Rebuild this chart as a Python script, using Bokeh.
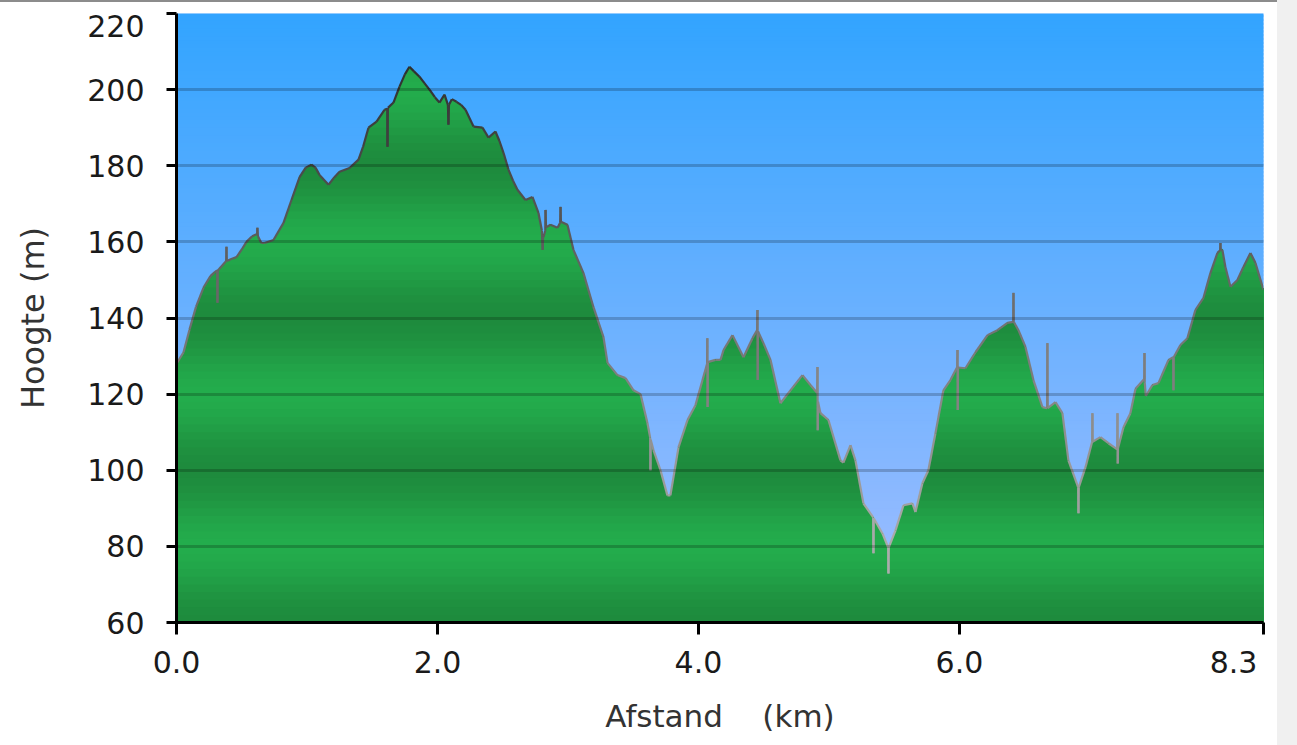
import numpy as np
from bokeh.plotting import figure
from bokeh.models import FixedTicker, CustomJSTickFormatter, Div, LinearAxis
from bokeh.layouts import row, column
from bokeh.embed import file_html
from bokeh.resources import INLINE

# ---------------- data ----------------
dist_km = [
    0.000, 0.054, 0.100, 0.150, 0.207, 0.260, 0.291, 0.312, 0.314, 0.316,
    0.330, 0.381, 0.383, 0.385, 0.420, 0.460, 0.500, 0.536, 0.580, 0.613,
    0.618, 0.620, 0.624, 0.650, 0.674, 0.743, 0.820, 0.881, 0.943, 0.990,
    1.034, 1.065, 1.096, 1.165, 1.210, 1.249, 1.326, 1.395, 1.430, 1.471,
    1.533, 1.594, 1.615, 1.617, 1.620, 1.663, 1.709, 1.750, 1.785, 1.820,
    1.862, 1.900, 1.939, 1.980, 2.015, 2.054, 2.080, 2.084, 2.088, 2.110,
    2.146, 2.180, 2.215, 2.276, 2.345, 2.391, 2.444, 2.475, 2.506, 2.544,
    2.580, 2.613, 2.674, 2.728, 2.774, 2.800, 2.806, 2.810, 2.812, 2.826,
    2.828, 2.832, 2.866, 2.920, 2.940, 2.943, 2.946, 2.996, 3.042, 3.119,
    3.195, 3.272, 3.303, 3.379, 3.441, 3.502, 3.556, 3.609, 3.630, 3.632,
    3.634, 3.655, 3.709, 3.762, 3.785, 3.847, 3.916, 3.977, 4.031, 4.066,
    4.068, 4.070, 4.072, 4.130, 4.169, 4.192, 4.261, 4.345, 4.414, 4.450,
    4.452, 4.454, 4.456, 4.498, 4.552, 4.628, 4.705, 4.797, 4.858, 4.910,
    4.912, 4.914, 4.916, 4.935, 4.996, 5.088, 5.111, 5.165, 5.203, 5.264,
    5.339, 5.341, 5.343, 5.410, 5.454, 5.456, 5.458, 5.510, 5.571, 5.640,
    5.663, 5.716, 5.762, 5.816, 5.877, 5.931, 5.983, 5.985, 5.987, 5.989,
    6.046, 6.123, 6.215, 6.291, 6.368, 6.412, 6.414, 6.416, 6.452, 6.506,
    6.567, 6.636, 6.672, 6.674, 6.676, 6.736, 6.789, 6.835, 6.910, 6.912,
    6.914, 6.966, 7.017, 7.019, 7.021, 7.080, 7.142, 7.209, 7.211, 7.213,
    7.215, 7.257, 7.310, 7.349, 7.416, 7.418, 7.420, 7.428, 7.479, 7.525,
    7.602, 7.638, 7.640, 7.642, 7.693, 7.747, 7.808, 7.870, 7.923, 7.977,
    7.998, 8.000, 8.002, 8.015, 8.038, 8.077, 8.130, 8.176, 8.230, 8.268,
    8.330,
]
elev_m = [
    128.0, 131.0, 137.0, 143.0, 148.0, 151.0, 152.0, 152.5, 144.0, 152.5,
    153.0, 155.0, 158.7, 155.0, 155.5, 156.0, 158.0, 160.0, 161.5, 162.0,
    162.0, 163.7, 161.5, 159.7, 159.7, 160.5, 165.0, 171.0, 177.0, 179.5,
    180.3, 179.5, 177.6, 175.0, 177.0, 178.4, 179.4, 181.6, 185.0, 190.0,
    191.6, 194.7, 195.0, 185.0, 195.2, 196.6, 200.8, 204.0, 206.0, 204.8,
    203.4, 201.7, 200.0, 198.0, 196.6, 198.7, 196.0, 190.8, 196.0, 197.5,
    196.8, 196.0, 194.7, 190.3, 190.0, 187.4, 189.0, 186.5, 183.4, 179.0,
    176.0, 173.7, 171.0, 171.8, 167.6, 163.0, 157.9, 162.0, 161.3, 163.0,
    168.4, 163.8, 164.5, 163.7, 165.0, 169.2, 165.3, 164.5, 157.9, 151.8,
    142.9, 135.0, 128.2, 125.0, 124.2, 121.0, 120.0, 112.4, 108.5, 100.0,
    108.0, 105.3, 100.0, 93.4, 93.4, 106.0, 113.2, 117.1, 123.7, 128.0,
    134.7, 116.6, 128.4, 129.0, 129.0, 131.6, 135.5, 129.7, 134.7, 136.8,
    142.1, 123.7, 136.5, 133.4, 129.0, 117.6, 121.0, 125.0, 122.4, 120.3,
    127.1, 110.5, 118.0, 115.0, 113.2, 102.6, 102.0, 106.6, 102.6, 91.3,
    87.6, 78.2, 87.4, 83.4, 79.7, 72.9, 79.7, 84.2, 90.8, 91.3,
    89.0, 96.6, 100.0, 109.7, 121.0, 123.7, 127.1, 131.6, 115.8, 127.0,
    126.8, 131.0, 135.5, 136.8, 138.7, 139.0, 146.6, 139.0, 136.8, 132.4,
    123.7, 116.6, 116.3, 133.4, 116.3, 117.9, 115.0, 102.6, 95.5, 88.7,
    95.5, 100.8, 107.5, 115.0, 107.5, 108.7, 107.1, 105.5, 115.0, 101.8,
    105.8, 111.3, 115.0, 121.4, 124.0, 130.8, 123.0, 119.5, 122.4, 122.9,
    129.0, 129.7, 121.0, 129.7, 132.9, 134.7, 142.1, 145.3, 151.8, 157.1,
    157.8, 159.7, 157.9, 157.9, 153.4, 148.2, 150.0, 153.4, 157.1, 154.5,
    147.4,
]
x_ticks = [0.0, 2.0, 4.0, 6.0, 8.33]
x_tick_labels = ["0.0", "2.0", "4.0", "6.0", "8.3"]
y_ticks = [60, 80, 100, 120, 140, 160, 180, 200, 220]
y_tick_labels = ["60", "80", "100", "120", "140", "160", "180", "200", "220"]
y_grid = [80, 100, 120, 140, 160, 180, 200]
x_title = "Afstand\u00a0\u00a0\u00a0\u00a0(km)"
y_title = "Hoogte (m)"

X_MIN, X_MAX = 0.0, 8.33
Y_MIN, Y_MAX = 60.0, 220.0
FONT = "DejaVu Sans"
TICK_FS = "30px"
TICK_COLOR = "#1a1a1a"

FRAME_W, FRAME_H = 1087, 609
p = figure(width=1277, height=735,
           x_range=(X_MIN, X_MAX), y_range=(Y_MIN, Y_MAX),
           output_backend="svg", toolbar_location=None,
           min_border_left=176, min_border_right=14,
           min_border_top=11, min_border_bottom=115)
p.outline_line_color = None
p.background_fill_color = "#6BB1FF"
p.border_fill_color = "white"

# ---- sky gradient ----
def lerp(c0, c1, t):
    return tuple(int(round(a + (b - a) * t)) for a, b in zip(c0, c1))

def hexc(c):
    return "#%02x%02x%02x" % c

sky_top, sky_bot = (50, 164, 255), (163, 190, 255)
bands = np.arange(Y_MIN, Y_MAX, 1.0)
sky_cols = [hexc(lerp(sky_bot, sky_top, (b + 0.5 - Y_MIN) / (Y_MAX - Y_MIN))) for b in bands]
p.quad(left=X_MIN, right=X_MAX, bottom=bands, top=np.minimum(bands + 1.6, Y_MAX),
       fill_color=sky_cols, line_color=None)

# ---- green area with horizontal shading bands ----
xs = np.array(dist_km)
ys = np.array(elev_m)
step = 2.0
levels = np.arange(Y_MIN + step, Y_MAX + 0.01, step)

# add the points where the drawn polyline crosses the band edges (geometry only)
rx, ry = [xs[0]], [ys[0]]
for i in range(len(xs) - 1):
    x0, y0, x1, y1 = xs[i], ys[i], xs[i + 1], ys[i + 1]
    lo, hi = min(y0, y1), max(y0, y1)
    cross = [l for l in levels if lo < l < hi]
    ts = sorted((l - y0) / (y1 - y0) for l in cross)
    for t in ts:
        rx.append(x0 + t * (x1 - x0))
        ry.append(y0 + t * (y1 - y0))
    rx.append(x1)
    ry.append(y1)
rx = np.array(rx)
ry = np.array(ry)

g_light, g_dark = (35, 172, 76), (30, 139, 61)
for top in levels[::-1]:
    mid = top - step / 2
    w = (1 + np.cos(2 * np.pi * (mid - 60) / 40.0)) / 2
    col = hexc(lerp(g_light, g_dark, w))
    p.varea(x=rx, y1=np.full(len(rx), Y_MIN), y2=np.clip(ry, Y_MIN, top),
            fill_color=col)

# ---- outline, darker on high ground, lighter in the valleys ----
seg_cols = []
for i in range(len(xs) - 1):
    m = (ys[i] + ys[i + 1]) / 2
    t = min(max((m - 80) / (205 - 80), 0), 1)
    seg_cols.append(hexc(lerp((172, 172, 172), (48, 48, 48), t)))
p.segment(x0=xs[:-1], y0=ys[:-1], x1=xs[1:], y1=ys[1:],
          line_color=seg_cols, line_width=2.2)

# ---- grid ----
p.xgrid.grid_line_color = None
p.ygrid.ticker = FixedTicker(ticks=y_grid)
p.ygrid.grid_line_color = "#000000"
p.ygrid.grid_line_alpha = 0.2
p.ygrid.grid_line_width = 3
p.ygrid.level = "annotation"

# ---- main axes: line and tick marks only ----
blank = CustomJSTickFormatter(code='return "";')
for ax, ticks, out in ((p.xaxis[0], x_ticks, 12), (p.yaxis[0], y_ticks, 10)):
    ax.ticker = FixedTicker(ticks=ticks)
    ax.formatter = blank
    ax.axis_line_color = "black"
    ax.axis_line_width = 3
    ax.major_tick_line_color = "black"
    ax.major_tick_line_width = 3
    ax.major_tick_in = 0
    ax.major_tick_out = out
    ax.minor_tick_line_color = None
    ax.major_label_standoff = 0
    ax.major_label_text_font_size = "0px"

# ---- label axes: tick labels (the end labels sit inside the axis ends) ----
px_per_km = FRAME_W / (X_MAX - X_MIN)
px_per_m = FRAME_H / (Y_MAX - Y_MIN)
x_label_at = x_ticks[:-1] + [x_ticks[-1] - 30 / px_per_km]
y_label_at = y_ticks[:-1] + [y_ticks[-1] - 12 / px_per_m]

def label_formatter(at, labels):
    return CustomJSTickFormatter(
        args=dict(tvals=at, tlabels=labels),
        code="""
const i = tvals.findIndex(t => Math.abs(t - tick) < 1e-6);
return i >= 0 ? tlabels[i] : "";
""")

xlab = LinearAxis(ticker=FixedTicker(ticks=x_label_at),
                  formatter=label_formatter(x_label_at, x_tick_labels))
ylab = LinearAxis(ticker=FixedTicker(ticks=y_label_at),
                  formatter=label_formatter(y_label_at, y_tick_labels))
for ax in (xlab, ylab):
    ax.axis_line_color = None
    ax.major_tick_line_color = None
    ax.minor_tick_line_color = None
    ax.major_tick_in = 0
    ax.major_tick_out = 0
    ax.major_label_text_font = FONT
    ax.major_label_text_font_size = TICK_FS
    ax.major_label_text_color = TICK_COLOR
    ax.axis_label_text_font = FONT
    ax.axis_label_text_font_style = "normal"
    ax.axis_label_text_color = "#333333"

xlab.axis_label = x_title
ylab.axis_label = y_title
xlab.axis_label_text_font_size = "31px"
ylab.axis_label_text_font_size = "32px"
xlab.major_label_standoff = 16
xlab.axis_label_standoff = 22
ylab.major_label_standoff = 22
ylab.axis_label_standoff = 32
p.add_layout(xlab, "below")
p.add_layout(ylab, "left")

top_line = Div(width=1277, height=2, margin=0, styles={"background-color": "#8c8c8c"})
strip = Div(width=20, height=745, margin=0, styles={"background-color": "#F0F0F0"})
layout = row(column(top_line, p, spacing=0), strip, spacing=0)

open("out.html", "w").write(file_html(layout, INLINE))
